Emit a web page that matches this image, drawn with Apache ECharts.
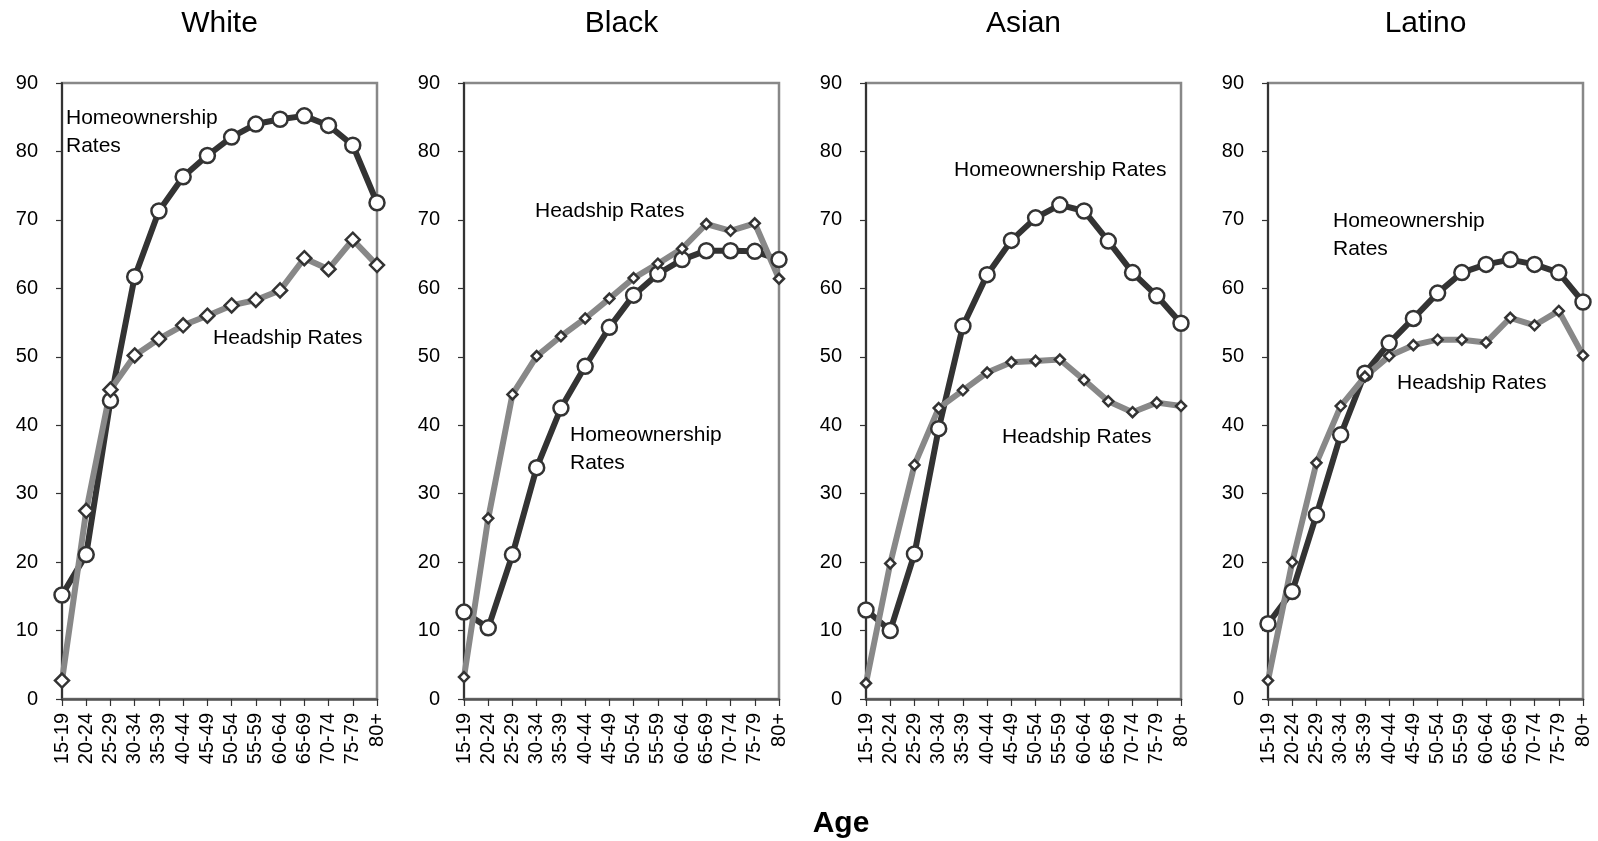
<!DOCTYPE html>
<html>
<head>
<meta charset="utf-8">
<script src="https://cdn.jsdelivr.net/npm/echarts@6/dist/echarts.min.js"></script>
<style>
  html, body { margin: 0; padding: 0; background: #fff; }
  #chart { width: 1598px; height: 841px; }
</style>
</head>
<body>
<div id="chart"></div>
<script>
const ages = ["15-19", "20-24", "25-29", "30-34", "35-39", "40-44", "45-49",
  "50-54", "55-59", "60-64", "65-69", "70-74", "75-79", "80+"];
const groups = ["White", "Black", "Asian", "Latino"];
const yTicks = { min: 0, max: 90, interval: 10 };

// homeownership rates by age
const whiteHome = [15.2, 21.1, 43.6, 61.7, 71.3, 76.3, 79.4, 82.1, 84.0, 84.7, 85.2, 83.8, 80.9, 72.5];
const blackHome = [12.7, 10.4, 21.1, 33.8, 42.5, 48.6, 54.3, 59.0, 62.1, 64.2, 65.5, 65.5, 65.4, 64.2];
const asianHome = [13.0, 10.0, 21.2, 39.5, 54.5, 62.0, 67.0, 70.3, 72.2, 71.3, 66.9, 62.3, 58.9, 54.9];
const latinoHome = [11.0, 15.7, 26.9, 38.6, 47.6, 52.0, 55.6, 59.3, 62.3, 63.5, 64.2, 63.5, 62.3, 58.0];

// headship rates by age
const whiteHead = [2.7, 27.5, 45.2, 50.2, 52.6, 54.6, 56.0, 57.5, 58.3, 59.7, 64.4, 62.8, 67.1, 63.4];
const blackHead = [3.2, 26.4, 44.5, 50.1, 53.0, 55.6, 58.5, 61.5, 63.6, 65.8, 69.4, 68.4, 69.5, 61.4];
const asianHead = [2.3, 19.8, 34.2, 42.5, 45.1, 47.7, 49.2, 49.4, 49.6, 46.6, 43.5, 41.9, 43.3, 42.8];
const latinoHead = [2.7, 20.0, 34.5, 42.8, 47.1, 50.1, 51.7, 52.5, 52.5, 52.1, 55.7, 54.6, 56.7, 50.2];

const homeData = [whiteHome, blackHome, asianHome, latinoHome];
const headData = [whiteHead, blackHead, asianHead, latinoHead];

const font = "'Liberation Sans', Arial, sans-serif";
const gridLefts = [62, 464, 866, 1268];
const gridW = 315;
const diamondSize = [14, 10, 10, 10];

// annotation text placement (left x, middle y)
const notes = [
  { text: "Homeownership\nRates", x: 66, y: 132 },
  { text: "Headship Rates", x: 213, y: 338 },
  { text: "Headship Rates", x: 535, y: 211 },
  { text: "Homeownership\nRates", x: 570, y: 449 },
  { text: "Homeownership Rates", x: 954, y: 170 },
  { text: "Headship Rates", x: 1002, y: 437 },
  { text: "Homeownership\nRates", x: 1333, y: 235 },
  { text: "Headship Rates", x: 1397, y: 383 }
];

const chart = echarts.init(document.getElementById("chart"));

let grids = [], xAxes = [], yAxes = [], series = [], titles = [];

groups.forEach((g, i) => {
  grids.push({
    left: gridLefts[i], top: 83, width: gridW, height: 616,
    show: true, borderColor: "#888", borderWidth: 2.5, backgroundColor: "transparent"
  });
  titles.push({
    text: g, left: gridLefts[i] + gridW / 2 - 5, top: 4, textAlign: "center",
    textStyle: { fontFamily: font, fontSize: 30, fontWeight: "normal", color: "#000" }
  });
  xAxes.push({
    type: "category", gridIndex: i, data: ages, boundaryGap: false,
    axisLine: { lineStyle: { color: "#555", width: 2.5 } },
    axisTick: { show: true, length: 7, lineStyle: { color: "#333", width: 1.2 } },
    axisLabel: { rotate: 90, interval: 0, fontFamily: font, fontSize: 20, color: "#000", margin: 14 }
  });
  yAxes.push({
    type: "value", gridIndex: i, min: yTicks.min, max: yTicks.max, interval: yTicks.interval,
    axisLine: { show: true, lineStyle: { color: "#333", width: 2 } },
    axisTick: { show: true, length: 6, lineStyle: { color: "#333", width: 1.2 } },
    axisLabel: { fontFamily: font, fontSize: 20, color: "#000", margin: 24 },
    splitLine: { show: false }
  });
  series.push({
    type: "line", name: "Homeownership Rates", xAxisIndex: i, yAxisIndex: i,
    data: homeData[i], symbol: "circle", symbolSize: 15,
    lineStyle: { color: "#333", width: 6 },
    itemStyle: { color: "#fff", borderColor: "#333", borderWidth: 2.5 },
    emphasis: { disabled: true }
  });
  series.push({
    type: "line", name: "Headship Rates", xAxisIndex: i, yAxisIndex: i,
    data: headData[i], symbol: "diamond", symbolSize: diamondSize[i],
    lineStyle: { color: "#888", width: 6 },
    itemStyle: { color: "#fff", borderColor: "#333", borderWidth: 2.5 },
    emphasis: { disabled: true }
  });
});

titles.push({
  text: "Age", left: 836, top: 804, textAlign: "center",
  textStyle: { fontFamily: font, fontSize: 30, fontWeight: "bold", color: "#000" }
});

const option = {
  animation: false,
  backgroundColor: "#fff",
  title: titles,
  grid: grids,
  xAxis: xAxes,
  yAxis: yAxes,
  series: series,
  graphic: notes.map(n => ({
    type: "text", x: n.x, y: n.y, z: 100,
    style: {
      text: n.text, fill: "#000", font: "21px " + font,
      lineHeight: 28, verticalAlign: "middle", align: "left"
    }
  }))
};

chart.setOption(option);
</script>
</body>
</html>
